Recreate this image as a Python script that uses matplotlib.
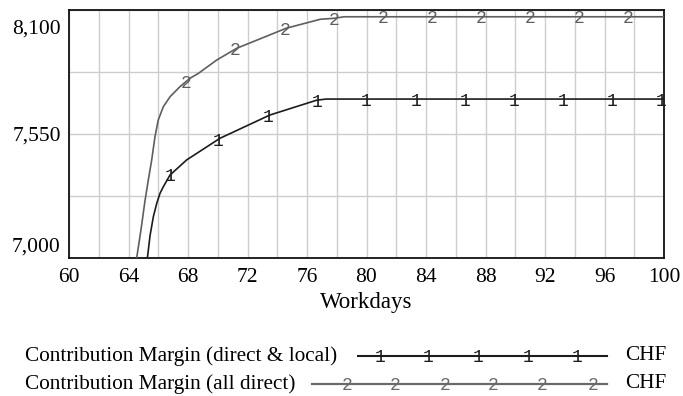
import numpy as np
import matplotlib
matplotlib.use("Agg")
import matplotlib.pyplot as plt
from matplotlib.lines import Line2D
import matplotlib.transforms as mtransforms

# ---- data ----
days_local = [65.27, 65.45, 65.67, 65.9, 66.12, 66.34, 66.79, 67.91, 70.15, 73.5, 76.65, 77.3, 100]
vals_local = [7000, 7100, 7183, 7243, 7287, 7316, 7368, 7435, 7531, 7634, 7700, 7705, 7705]

days_direct = [64.55, 64.85, 65.1, 65.33, 65.56, 65.78, 66.0, 66.34, 66.79, 67.46, 68.13,
               68.7, 69.93, 71.27, 74.6, 76.9, 77.8, 78.5, 100]
vals_direct = [7000, 7130, 7250, 7345, 7435, 7538, 7612, 7671, 7715, 7760, 7797,
               7819, 7878, 7930, 8019, 8059, 8063, 8070, 8070]

marks_local = [66.8, 70.0, 73.4, 76.7, 80.0, 83.3, 86.6, 89.9, 93.2, 96.5, 99.8]
marks_direct = [67.9, 71.2, 74.5, 77.8, 81.1, 84.4, 87.7, 91.0, 94.3, 97.6]

series_names = ["Contribution Margin (direct & local)", "Contribution Margin (all direct)"]
series_unit = "CHF"
x_label = "Workdays"
x_ticks = [60, 64, 68, 72, 76, 80, 84, 88, 92, 96, 100]
y_ticks = [7000, 7550, 8100]
y_ticklabels = ["7,000", "7,550", "8,100"]

col_local = "#1c1c1c"
col_direct = "#5e5e5e"
serif = "Liberation Serif"
mono = "Liberation Mono"

W, H = 683, 396
fig = plt.figure(figsize=(W / 100, H / 100), dpi=100)
ax = fig.add_axes([69 / W, 1 - 258 / H, (664 - 69) / W, (258 - 10) / H])

ax.set_xlim(60, 100)
ax.set_ylim(7000, 8100)

ax.plot(days_local, vals_local, color=col_local, lw=1.2, zorder=3)
ax.plot(days_direct, vals_direct, color=col_direct, lw=1.2, zorder=3)

for mk, d, v, c, s in [(marks_local, days_local, vals_local, col_local, "1"),
                       (marks_direct, days_direct, vals_direct, col_direct, "2")]:
    for m in mk:
        ax.text(m, np.interp(m, d, v), s, family=mono, fontsize=13, color=c,
                ha="center", va="center_baseline", zorder=4, clip_on=False)

ax.set_xticks(x_ticks)
ax.set_xticks([t + 2 for t in x_ticks[:-1]], minor=True)
ax.set_yticks(y_ticks)
ax.set_yticklabels(y_ticklabels)
ax.set_yticks([7275, 7825], minor=True)
ax.grid(True, which="both", color="#cdcdcd", lw=1.0)
ax.set_axisbelow(True)
ax.tick_params(which="both", length=0)
ax.tick_params(axis="x", pad=7)
ax.tick_params(axis="y", pad=6)
for lab in ax.get_xticklabels() + ax.get_yticklabels():
    lab.set_family(serif)
    lab.set_fontsize(15.5)
ylabs = ax.get_yticklabels()
ylabs[0].set_transform(ylabs[0].get_transform() + mtransforms.ScaledTranslation(0, 13 / 100, fig.dpi_scale_trans))
ylabs[2].set_transform(ylabs[2].get_transform() + mtransforms.ScaledTranslation(0, -17 / 100, fig.dpi_scale_trans))

for sp in ax.spines.values():
    sp.set_color("#111111")
    sp.set_linewidth(1.3)

ax.set_xlabel(x_label, family=serif, fontsize=16.5, labelpad=4)

# ---- legend ----
rows = [(356, 337, 358, col_local, 1.5, "1", [380, 428, 478, 528, 577]),
        (384, 295, 312, "#6a6a6a", 1.6, "2", [347, 395, 445, 493, 542, 593])]
for i, (yy, txt_r, l0, c, lw, s, mxs) in enumerate(rows):
    fig.text(txt_r / W, 1 - yy / H, series_names[i], family=serif, fontsize=15.3,
             ha="right", va="center")
    fig.add_artist(Line2D([l0 / W, 607 / W], [1 - yy / H, 1 - yy / H], color=c, lw=lw,
                          transform=fig.transFigure))
    for mx in mxs:
        fig.text(mx / W, 1 - yy / H, s, family=mono, fontsize=13, color=c,
                 ha="center", va="center_baseline")
    fig.text(625 / W, 1 - yy / H, series_unit, family=serif, fontsize=15.3,
             ha="left", va="center")

fig.savefig("out.png", dpi=100)
